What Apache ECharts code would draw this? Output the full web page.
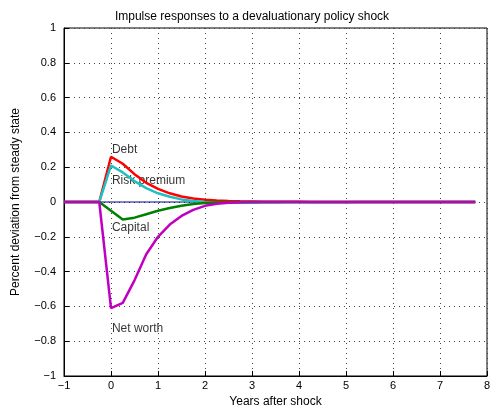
<!DOCTYPE html><html><head><meta charset="utf-8"><script src="https://cdn.jsdelivr.net/npm/echarts@6/dist/echarts.min.js"></script></head><body style="margin:0"><div id="c" style="width:504px;height:416px"></div><script>
var years=[];for(var i=0;i<=35;i++)years.push(-1+i*0.25);
var debt=[0,0,0,0,0.26,0.22,0.16,0.11,0.075,0.05,0.032,0.02,0.013,0.009,0.006,0.004,0.003,0.002,0.001,0.001,0.001,0,0,0,0,0,0,0,0,0,0,0,0,0,0,0];
var risk=[0,0,0,0,0.21,0.17,0.12,0.08,0.05,0.03,0.015,0.006,0,-0.004,-0.005,-0.005,-0.004,-0.003,-0.003,-0.002,-0.002,-0.001,-0.001,-0.001,-0.001,0,0,0,0,0,0,0,0,0,0,0];
var capital=[0,0,0,0,-0.05,-0.1,-0.09,-0.07,-0.05,-0.035,-0.022,-0.012,-0.006,-0.003,-0.001,0,0,0,0,0,0,0,0,0,0,0,0,0,0,0,0,0,0,0,0,0];
var networth=[0,0,0,0,-0.61,-0.58,-0.45,-0.3,-0.2,-0.13,-0.08,-0.045,-0.022,-0.01,-0.004,-0.001,0,0,0,0,0,0,0,0,0,0,0,0,0,0,0,0,0,0,0,0];
function z(a){return years.map(function(x,i){return [x,a[i]];});}
var zero=years.map(function(x){return [x,0];});
var f='Liberation Sans, Arial, sans-serif';
var lbl=function(t,x,y){return {type:'scatter',data:[[x,y]],symbolSize:0,silent:true,label:{show:true,formatter:t,position:'right',distance:0,color:'#000',fontSize:12,fontFamily:f}};};
var ax={axisLine:{onZero:false,lineStyle:{color:'#000'}},axisTick:{inside:true,lineStyle:{color:'#000'}},axisLabel:{color:'#000',fontSize:11,fontFamily:f},splitLine:{show:true,lineStyle:{color:'#444',type:[1,4]}}};
echarts.init(document.getElementById('c')).setOption({animation:false,
title:{text:'Impulse responses to a devaluationary policy shock',left:'center',top:6,textStyle:{fontSize:12,fontWeight:'normal',color:'#000',fontFamily:f}},
grid:{left:64,right:17,top:28,bottom:40,show:true,borderColor:'#000',borderWidth:1},
xAxis:Object.assign({type:'value',min:-1,max:8,interval:1,name:'Years after shock',nameLocation:'middle',nameGap:18,nameTextStyle:{color:'#000',fontSize:12,fontFamily:f},axisLabel:{color:'#000',fontSize:11,fontFamily:f,formatter:function(v){return v<0?'\u2212'+(-v):v;}}},ax,{axisLabel:{color:'#000',fontSize:11,fontFamily:f,margin:4,formatter:function(v){return v<0?'\u2212'+(-v):v;}}}),
yAxis:Object.assign({type:'value',min:-1,max:1,interval:0.2,name:'Percent deviation from steady state',nameLocation:'middle',nameGap:42,nameTextStyle:{color:'#000',fontSize:12,fontFamily:f}},ax,{axisLabel:{color:'#000',fontSize:11,fontFamily:f,formatter:function(v){v=Math.round(v*10)/10;return v<0?'\u2212'+(-v):String(v);}}}),
series:[
{type:'line',data:zero,symbol:'none',lineStyle:{color:'#00008b',width:1}},
{type:'line',data:z(debt),symbol:'none',lineStyle:{color:'#ff0000',width:2.5}},
{type:'line',data:z(risk),symbol:'none',lineStyle:{color:'#20c0c0',width:2.5}},
{type:'line',data:z(capital),symbol:'none',lineStyle:{color:'#008000',width:2.5}},
{type:'line',data:z(networth),symbol:'none',lineStyle:{color:'#c000c0',width:2.5}},
lbl('Debt',0.02,0.3),lbl('Risk premium',0.02,0.12),lbl('Capital',0.02,-0.15),lbl('Net worth',0.02,-0.73)
]});
</script></body></html>
